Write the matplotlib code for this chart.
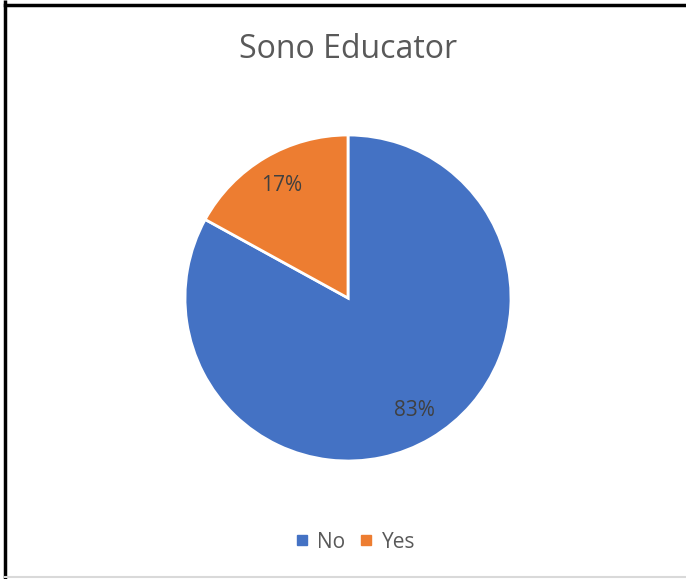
import matplotlib
matplotlib.use("Agg")
import matplotlib.pyplot as plt
from matplotlib.lines import Line2D
from matplotlib.patches import Rectangle

categories = ["No", "Yes"]
values = [83, 17]
colors = ["#4472C4", "#ED7D31"]
title = "Sono Educator"

plt.rcParams['font.family'] = ['Open Sans', 'DejaVu Sans']

W, H = 686, 579
fig = plt.figure(figsize=(W / 100, H / 100), dpi=100)
fig.patch.set_facecolor("white")

cx, cy, r = 348, 298, 163
ax = fig.add_axes([(cx - r) / W, (H - cy - r) / H, 2 * r / W, 2 * r / H])
wedges, texts, autotexts = ax.pie(
    values, colors=colors, startangle=90, counterclock=False,
    autopct=lambda p: f"{p:.0f}%", pctdistance=0.80,
    wedgeprops=dict(edgecolor="white", linewidth=2),
    textprops=dict(color="#404040", fontsize=15))
ax.set_xlim(-1.0, 1.0)
ax.set_ylim(-1.0, 1.0)
ax.set_aspect("equal")
ax.axis("off")

fig.text(348 / W, 1 - 50 / H, title, ha="center", va="center",
         fontsize=23, color="#595959")

handles = [Line2D([0], [0], marker="s", linestyle="none", markersize=7,
                  markerfacecolor=c, markeredgecolor=c) for c in colors]
leg = fig.legend(handles, categories, loc="center", ncol=2,
                 bbox_to_anchor=(354 / W, 1 - 542 / H), frameon=False,
                 fontsize=15, handletextpad=0.3, columnspacing=0.55,
                 handlelength=0.9)
for t in leg.get_texts():
    t.set_color("#595959")

# border
fig.add_artist(Rectangle((5 / W, 0), 0, 1, transform=fig.transFigure,
                         edgecolor="black", linewidth=2.5, fill=False))
fig.add_artist(Line2D([5 / W, 1], [1 - 5 / H, 1 - 5 / H], transform=fig.transFigure,
                      color="black", linewidth=2.5))
fig.add_artist(Line2D([5 / W, 1], [1 - 577 / H, 1 - 577 / H], transform=fig.transFigure,
                      color="#d9d9d9", linewidth=1.5))

fig.savefig("out.png", dpi=100)
